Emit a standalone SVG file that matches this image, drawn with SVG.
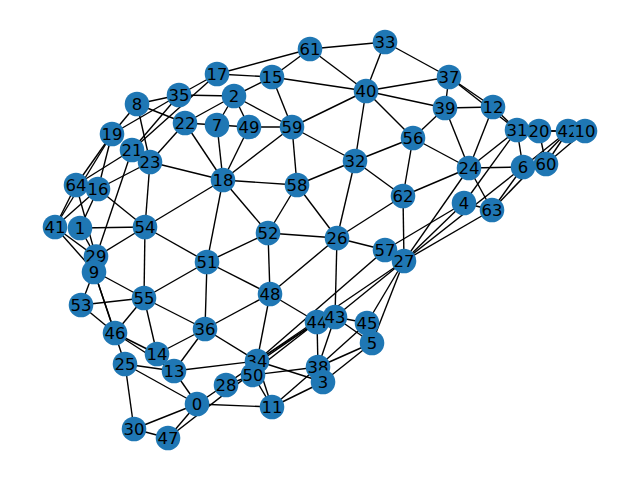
<svg xmlns="http://www.w3.org/2000/svg" width="640" height="480" viewBox="0 0 640 480">
<style>
.e line{stroke:#000;stroke-width:1.4}
.n circle{fill:#1f77b4}
.n text{font-family:"DejaVu Sans",sans-serif;font-size:16.5px;fill:#000;text-anchor:middle;dominant-baseline:central}
</style>
<rect width="640" height="480" fill="#fff"/>
<g id="edges" class="e">
<line x1="310" y1="49" x2="385" y2="42"/>
<line x1="310" y1="49" x2="217" y2="74"/>
<line x1="310" y1="49" x2="272" y2="77"/>
<line x1="310" y1="49" x2="366" y2="91"/>
<line x1="385" y1="42" x2="366" y2="91"/>
<line x1="385" y1="42" x2="449" y2="77"/>
<line x1="217" y1="74" x2="272" y2="77"/>
<line x1="217" y1="74" x2="179" y2="95"/>
<line x1="217" y1="74" x2="132" y2="150"/>
<line x1="272" y1="77" x2="234" y2="96"/>
<line x1="272" y1="77" x2="292" y2="127"/>
<line x1="272" y1="77" x2="366" y2="91"/>
<line x1="234" y1="96" x2="179" y2="95"/>
<line x1="234" y1="96" x2="185" y2="123"/>
<line x1="234" y1="96" x2="217" y2="125"/>
<line x1="234" y1="96" x2="249" y2="127"/>
<line x1="234" y1="96" x2="292" y2="127"/>
<line x1="179" y1="95" x2="137" y2="104"/>
<line x1="179" y1="95" x2="112" y2="134"/>
<line x1="179" y1="95" x2="132" y2="150"/>
<line x1="137" y1="104" x2="112" y2="134"/>
<line x1="137" y1="104" x2="185" y2="123"/>
<line x1="137" y1="104" x2="150" y2="162"/>
<line x1="217" y1="125" x2="185" y2="123"/>
<line x1="217" y1="125" x2="223" y2="180"/>
<line x1="217" y1="125" x2="249" y2="127"/>
<line x1="249" y1="127" x2="292" y2="127"/>
<line x1="249" y1="127" x2="223" y2="180"/>
<line x1="185" y1="123" x2="223" y2="180"/>
<line x1="185" y1="123" x2="150" y2="162"/>
<line x1="112" y1="134" x2="76" y2="185"/>
<line x1="112" y1="134" x2="98" y2="189"/>
<line x1="112" y1="134" x2="55" y2="227"/>
<line x1="132" y1="150" x2="76" y2="185"/>
<line x1="132" y1="150" x2="96" y2="257"/>
<line x1="150" y1="162" x2="98" y2="189"/>
<line x1="150" y1="162" x2="145" y2="227"/>
<line x1="150" y1="162" x2="223" y2="180"/>
<line x1="76" y1="185" x2="55" y2="227"/>
<line x1="76" y1="185" x2="96" y2="257"/>
<line x1="98" y1="189" x2="55" y2="227"/>
<line x1="98" y1="189" x2="145" y2="227"/>
<line x1="98" y1="189" x2="80" y2="228"/>
<line x1="55" y1="227" x2="96" y2="257"/>
<line x1="55" y1="227" x2="94" y2="271"/>
<line x1="80" y1="228" x2="145" y2="227"/>
<line x1="80" y1="228" x2="96" y2="257"/>
<line x1="96" y1="257" x2="145" y2="227"/>
<line x1="94" y1="271" x2="144" y2="298"/>
<line x1="94" y1="271" x2="81" y2="305"/>
<line x1="94" y1="271" x2="115" y2="333"/>
<line x1="94" y1="271" x2="125" y2="364"/>
<line x1="81" y1="305" x2="144" y2="298"/>
<line x1="81" y1="305" x2="115" y2="333"/>
<line x1="145" y1="227" x2="223" y2="180"/>
<line x1="145" y1="227" x2="207" y2="262"/>
<line x1="145" y1="227" x2="144" y2="298"/>
<line x1="144" y1="298" x2="207" y2="262"/>
<line x1="144" y1="298" x2="205" y2="329"/>
<line x1="144" y1="298" x2="157" y2="354"/>
<line x1="144" y1="298" x2="115" y2="333"/>
<line x1="115" y1="333" x2="157" y2="354"/>
<line x1="115" y1="333" x2="174" y2="371"/>
<line x1="157" y1="354" x2="205" y2="329"/>
<line x1="174" y1="371" x2="205" y2="329"/>
<line x1="174" y1="371" x2="125" y2="364"/>
<line x1="174" y1="371" x2="197" y2="404"/>
<line x1="174" y1="371" x2="257" y2="361"/>
<line x1="125" y1="364" x2="197" y2="404"/>
<line x1="125" y1="364" x2="134" y2="429"/>
<line x1="134" y1="429" x2="197" y2="404"/>
<line x1="134" y1="429" x2="168" y2="438"/>
<line x1="168" y1="438" x2="197" y2="404"/>
<line x1="168" y1="438" x2="317" y2="322"/>
<line x1="197" y1="404" x2="272" y2="407"/>
<line x1="197" y1="404" x2="317" y2="322"/>
<line x1="226" y1="385" x2="253" y2="375"/>
<line x1="205" y1="329" x2="207" y2="262"/>
<line x1="205" y1="329" x2="270" y2="294"/>
<line x1="205" y1="329" x2="257" y2="361"/>
<line x1="207" y1="262" x2="268" y2="233"/>
<line x1="207" y1="262" x2="270" y2="294"/>
<line x1="207" y1="262" x2="223" y2="180"/>
<line x1="268" y1="233" x2="223" y2="180"/>
<line x1="268" y1="233" x2="297" y2="185"/>
<line x1="268" y1="233" x2="337" y2="238"/>
<line x1="268" y1="233" x2="270" y2="294"/>
<line x1="297" y1="185" x2="223" y2="180"/>
<line x1="297" y1="185" x2="292" y2="127"/>
<line x1="297" y1="185" x2="337" y2="238"/>
<line x1="297" y1="185" x2="355" y2="161"/>
<line x1="292" y1="127" x2="223" y2="180"/>
<line x1="292" y1="127" x2="355" y2="161"/>
<line x1="292" y1="127" x2="366" y2="91"/>
<line x1="366" y1="91" x2="355" y2="161"/>
<line x1="366" y1="91" x2="413" y2="138"/>
<line x1="366" y1="91" x2="445" y2="108"/>
<line x1="366" y1="91" x2="449" y2="77"/>
<line x1="355" y1="161" x2="413" y2="138"/>
<line x1="355" y1="161" x2="403" y2="196"/>
<line x1="355" y1="161" x2="337" y2="238"/>
<line x1="413" y1="138" x2="445" y2="108"/>
<line x1="413" y1="138" x2="469" y2="168"/>
<line x1="413" y1="138" x2="403" y2="196"/>
<line x1="445" y1="108" x2="449" y2="77"/>
<line x1="445" y1="108" x2="493" y2="107"/>
<line x1="445" y1="108" x2="469" y2="168"/>
<line x1="449" y1="77" x2="493" y2="107"/>
<line x1="449" y1="77" x2="517" y2="130"/>
<line x1="493" y1="107" x2="517" y2="130"/>
<line x1="493" y1="107" x2="469" y2="168"/>
<line x1="517" y1="130" x2="539" y2="131"/>
<line x1="517" y1="130" x2="523" y2="167"/>
<line x1="517" y1="130" x2="469" y2="168"/>
<line x1="517" y1="130" x2="464" y2="203"/>
<line x1="539" y1="131" x2="568" y2="131"/>
<line x1="539" y1="131" x2="585" y2="131"/>
<line x1="539" y1="131" x2="546" y2="164"/>
<line x1="568" y1="131" x2="546" y2="164"/>
<line x1="568" y1="131" x2="523" y2="167"/>
<line x1="568" y1="131" x2="492" y2="210"/>
<line x1="585" y1="131" x2="546" y2="164"/>
<line x1="523" y1="167" x2="469" y2="168"/>
<line x1="523" y1="167" x2="492" y2="210"/>
<line x1="523" y1="167" x2="404" y2="261"/>
<line x1="469" y1="168" x2="492" y2="210"/>
<line x1="469" y1="168" x2="403" y2="196"/>
<line x1="469" y1="168" x2="404" y2="261"/>
<line x1="464" y1="203" x2="492" y2="210"/>
<line x1="464" y1="203" x2="404" y2="261"/>
<line x1="464" y1="203" x2="385" y2="250"/>
<line x1="492" y1="210" x2="404" y2="261"/>
<line x1="403" y1="196" x2="337" y2="238"/>
<line x1="403" y1="196" x2="404" y2="261"/>
<line x1="337" y1="238" x2="385" y2="250"/>
<line x1="337" y1="238" x2="335" y2="317"/>
<line x1="337" y1="238" x2="270" y2="294"/>
<line x1="385" y1="250" x2="404" y2="261"/>
<line x1="385" y1="250" x2="257" y2="361"/>
<line x1="404" y1="261" x2="335" y2="317"/>
<line x1="404" y1="261" x2="367" y2="323"/>
<line x1="404" y1="261" x2="372" y2="343"/>
<line x1="404" y1="261" x2="257" y2="361"/>
<line x1="270" y1="294" x2="257" y2="361"/>
<line x1="270" y1="294" x2="317" y2="322"/>
<line x1="317" y1="322" x2="335" y2="317"/>
<line x1="317" y1="322" x2="318" y2="367"/>
<line x1="317" y1="322" x2="257" y2="361"/>
<line x1="335" y1="317" x2="318" y2="367"/>
<line x1="335" y1="317" x2="367" y2="323"/>
<line x1="335" y1="317" x2="372" y2="343"/>
<line x1="372" y1="343" x2="318" y2="367"/>
<line x1="372" y1="343" x2="323" y2="382"/>
<line x1="367" y1="323" x2="318" y2="367"/>
<line x1="257" y1="361" x2="323" y2="382"/>
<line x1="257" y1="361" x2="272" y2="407"/>
<line x1="253" y1="375" x2="318" y2="367"/>
<line x1="253" y1="375" x2="272" y2="407"/>
<line x1="272" y1="407" x2="318" y2="367"/>
<line x1="272" y1="407" x2="323" y2="382"/>
</g>
<g id="n0" class="n"><circle cx="197" cy="404" r="12.3"/><text x="197" y="404">0</text></g>
<g id="n41" class="n"><circle cx="55" cy="227" r="12.3"/><text x="55" y="227">41</text></g>
<g id="n1" class="n"><circle cx="80" cy="228" r="12.3"/><text x="80" y="228">1</text></g>
<g id="n2" class="n"><circle cx="234" cy="96" r="12.3"/><text x="234" y="96">2</text></g>
<g id="n4" class="n"><circle cx="464" cy="203" r="12.3"/><text x="464" y="203">4</text></g>
<g id="n6" class="n"><circle cx="523" cy="167" r="12.3"/><text x="523" y="167">6</text></g>
<g id="n7" class="n"><circle cx="217" cy="125" r="12.3"/><text x="217" y="125">7</text></g>
<g id="n8" class="n"><circle cx="137" cy="104" r="12.3"/><text x="137" y="104">8</text></g>
<g id="n29" class="n"><circle cx="96" cy="256.5" r="12.3"/><text x="96" y="256.5">29</text></g>
<g id="n9" class="n"><circle cx="94" cy="272" r="12.3"/><text x="94" y="272">9</text></g>
<g id="n42" class="n"><circle cx="568" cy="131" r="12.3"/><text x="568" y="131">42</text></g>
<g id="n10" class="n"><circle cx="585" cy="131" r="12.3"/><text x="585" y="131">10</text></g>
<g id="n11" class="n"><circle cx="272" cy="407" r="12.3"/><text x="272" y="407">11</text></g>
<g id="n12" class="n"><circle cx="493" cy="107" r="12.3"/><text x="493" y="107">12</text></g>
<g id="n14" class="n"><circle cx="157" cy="354" r="12.3"/><text x="157" y="354">14</text></g>
<g id="n13" class="n"><circle cx="174" cy="371" r="12.3"/><text x="174" y="371">13</text></g>
<g id="n15" class="n"><circle cx="272" cy="77" r="12.3"/><text x="272" y="77">15</text></g>
<g id="n64" class="n"><circle cx="76" cy="185" r="12.3"/><text x="76" y="185">64</text></g>
<g id="n16" class="n"><circle cx="98" cy="189" r="12.3"/><text x="98" y="189">16</text></g>
<g id="n17" class="n"><circle cx="217" cy="74" r="12.3"/><text x="217" y="74">17</text></g>
<g id="n18" class="n"><circle cx="223" cy="180" r="12.3"/><text x="223" y="180">18</text></g>
<g id="n19" class="n"><circle cx="112" cy="134" r="12.3"/><text x="112" y="134">19</text></g>
<g id="n31" class="n"><circle cx="517" cy="130" r="12.3"/><text x="517" y="130">31</text></g>
<g id="n20" class="n"><circle cx="539" cy="131" r="12.3"/><text x="539" y="131">20</text></g>
<g id="n21" class="n"><circle cx="132" cy="150" r="12.3"/><text x="132" y="150">21</text></g>
<g id="n22" class="n"><circle cx="185" cy="123" r="12.3"/><text x="185" y="123">22</text></g>
<g id="n23" class="n"><circle cx="150" cy="162" r="12.3"/><text x="150" y="162">23</text></g>
<g id="n24" class="n"><circle cx="469" cy="168" r="12.3"/><text x="469" y="168">24</text></g>
<g id="n25" class="n"><circle cx="125" cy="364" r="12.3"/><text x="125" y="364">25</text></g>
<g id="n26" class="n"><circle cx="337" cy="238" r="12.3"/><text x="337" y="238">26</text></g>
<g id="n57" class="n"><circle cx="385" cy="250" r="12.3"/><text x="385" y="250">57</text></g>
<g id="n27" class="n"><circle cx="404" cy="261" r="12.3"/><text x="404" y="261">27</text></g>
<g id="n28" class="n"><circle cx="226" cy="385" r="12.3"/><text x="226" y="385">28</text></g>
<g id="n30" class="n"><circle cx="134" cy="429" r="12.3"/><text x="134" y="429">30</text></g>
<g id="n32" class="n"><circle cx="355" cy="161" r="12.3"/><text x="355" y="161">32</text></g>
<g id="n33" class="n"><circle cx="385" cy="42" r="12.3"/><text x="385" y="42">33</text></g>
<g id="n34" class="n"><circle cx="257" cy="361" r="12.3"/><text x="257" y="361">34</text></g>
<g id="n50" class="n"><circle cx="253" cy="375" r="12.3"/><text x="253" y="375">50</text></g>
<g id="n35" class="n"><circle cx="179" cy="95" r="12.3"/><text x="179" y="95">35</text></g>
<g id="n36" class="n"><circle cx="205" cy="329" r="12.3"/><text x="205" y="329">36</text></g>
<g id="n37" class="n"><circle cx="449" cy="77" r="12.3"/><text x="449" y="77">37</text></g>
<g id="n38" class="n"><circle cx="318" cy="367" r="12.3"/><text x="318" y="367">38</text></g>
<g id="n3" class="n"><circle cx="323" cy="382" r="12.3"/><text x="323" y="382">3</text></g>
<g id="n39" class="n"><circle cx="445" cy="108" r="12.3"/><text x="445" y="108">39</text></g>
<g id="n40" class="n"><circle cx="366" cy="91" r="12.3"/><text x="366" y="91">40</text></g>
<g id="n44" class="n"><circle cx="317" cy="322" r="12.3"/><text x="317" y="322">44</text></g>
<g id="n43" class="n"><circle cx="335" cy="317" r="12.3"/><text x="335" y="317">43</text></g>
<g id="n45" class="n"><circle cx="367" cy="323" r="12.3"/><text x="367" y="323">45</text></g>
<g id="n5" class="n"><circle cx="372" cy="343" r="12.3"/><text x="372" y="343">5</text></g>
<g id="n46" class="n"><circle cx="115" cy="333" r="12.3"/><text x="115" y="333">46</text></g>
<g id="n47" class="n"><circle cx="168" cy="438" r="12.3"/><text x="168" y="438">47</text></g>
<g id="n48" class="n"><circle cx="270" cy="294" r="12.3"/><text x="270" y="294">48</text></g>
<g id="n49" class="n"><circle cx="249" cy="127" r="12.3"/><text x="249" y="127">49</text></g>
<g id="n51" class="n"><circle cx="207" cy="262" r="12.3"/><text x="207" y="262">51</text></g>
<g id="n52" class="n"><circle cx="268" cy="233" r="12.3"/><text x="268" y="233">52</text></g>
<g id="n53" class="n"><circle cx="81" cy="305" r="12.3"/><text x="81" y="305">53</text></g>
<g id="n54" class="n"><circle cx="145" cy="227" r="12.3"/><text x="145" y="227">54</text></g>
<g id="n55" class="n"><circle cx="144" cy="298" r="12.3"/><text x="144" y="298">55</text></g>
<g id="n56" class="n"><circle cx="413" cy="138" r="12.3"/><text x="413" y="138">56</text></g>
<g id="n58" class="n"><circle cx="297" cy="185" r="12.3"/><text x="297" y="185">58</text></g>
<g id="n59" class="n"><circle cx="292" cy="127" r="12.3"/><text x="292" y="127">59</text></g>
<g id="n60" class="n"><circle cx="546" cy="164" r="12.3"/><text x="546" y="164">60</text></g>
<g id="n61" class="n"><circle cx="310" cy="49" r="12.3"/><text x="310" y="49">61</text></g>
<g id="n62" class="n"><circle cx="403" cy="196" r="12.3"/><text x="403" y="196">62</text></g>
<g id="n63" class="n"><circle cx="492" cy="210" r="12.3"/><text x="492" y="210">63</text></g>
</svg>
